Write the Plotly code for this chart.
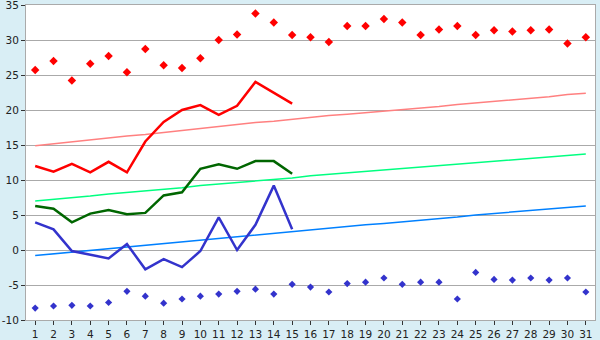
import plotly.graph_objects as go

days = list(range(1, 32))

record_max = [25.7, 27.0, 24.2, 26.6, 27.7, 25.4, 28.7, 26.4, 26.0, 27.4,
              30.0, 30.8, 33.8, 32.5, 30.7, 30.4, 29.7, 32.0, 32.0, 33.0,
              32.5, 30.7, 31.5, 32.0, 30.7, 31.4, 31.2, 31.4, 31.5, 29.5, 30.4]
record_min = [-8.3, -8.0, -7.9, -8.0, -7.5, -5.9, -6.6, -7.6, -7.0, -6.6,
              -6.3, -5.9, -5.6, -6.3, -4.9, -5.3, -6.0, -4.8, -4.6, -4.0,
              -4.9, -4.6, -4.6, -7.0, -3.2, -4.2, -4.3, -4.0, -4.3, -4.0, -6.0]

obs_days = list(range(1, 16))
tmax = [12.0, 11.2, 12.3, 11.1, 12.6, 11.1, 15.5, 18.3, 20.0, 20.7, 19.3, 20.6, 24.0, 22.4, 20.9]
tmean = [6.3, 5.9, 3.95, 5.2, 5.7, 5.1, 5.3, 7.8, 8.25, 11.6, 12.25, 11.6, 12.7, 12.7, 10.9]
tmin = [3.95, 2.95, -0.15, -0.7, -1.2, 0.85, -2.75, -1.3, -2.45, -0.15, 4.65, 0.0, 3.6, 9.2, 2.95]

norm_max = [14.9, 15.2, 15.4, 15.7, 16.0, 16.3, 16.5, 16.8, 17.1, 17.3, 17.6, 17.9, 18.2, 18.4, 18.7,
            18.9, 19.2, 19.4, 19.6, 19.9, 20.1, 20.3, 20.5, 20.8, 21.0, 21.2, 21.5, 21.7, 21.9, 22.2, 22.4]
norm_mean = [7.0, 7.2, 7.5, 7.7, 8.0, 8.2, 8.4, 8.7, 8.9, 9.2, 9.4, 9.6, 9.9, 10.1, 10.3,
             10.6, 10.8, 11.0, 11.2, 11.4, 11.6, 11.8, 12.0, 12.2, 12.5, 12.7, 12.9, 13.1, 13.3, 13.5, 13.7]
norm_min = [-0.8, -0.55, -0.3, -0.05, 0.2, 0.45, 0.7, 0.95, 1.2, 1.45, 1.7, 1.95, 2.2, 2.45, 2.7,
            2.9, 3.1, 3.4, 3.6, 3.8, 4.0, 4.3, 4.5, 4.7, 5.0, 5.2, 5.4, 5.6, 5.9, 6.1, 6.3]

y_ticks = [-10, -5, 0, 5, 10, 15, 20, 25, 30, 35]
y_labels = ["-10", "-5", "0", "5", "10", "15", "20", "25", "30", "35"]

fig = go.Figure()
fig.add_trace(go.Scatter(x=days, y=norm_max, mode="lines", line=dict(color="#FF8080", width=1.5)))
fig.add_trace(go.Scatter(x=days, y=norm_mean, mode="lines", line=dict(color="#00FF80", width=1.5)))
fig.add_trace(go.Scatter(x=days, y=norm_min, mode="lines", line=dict(color="#0080FF", width=1.5)))
fig.add_trace(go.Scatter(x=obs_days, y=tmax, mode="lines", line=dict(color="#FF0000", width=2.5)))
fig.add_trace(go.Scatter(x=obs_days, y=tmean, mode="lines", line=dict(color="#006600", width=2.5)))
fig.add_trace(go.Scatter(x=obs_days, y=tmin, mode="lines", line=dict(color="#3333CC", width=2.5)))
fig.add_trace(go.Scatter(x=days, y=record_max, mode="markers",
                         marker=dict(symbol="diamond", size=6.5, color="#FF0000")))
fig.add_trace(go.Scatter(x=days, y=record_min, mode="markers",
                         marker=dict(symbol="diamond", size=5.5, color="#3333CC")))

fig.update_layout(
    width=600, height=340,
    margin=dict(l=26, r=5, t=5, b=20),
    paper_bgcolor="#D9EEF5",
    plot_bgcolor="#FFFFFF",
    showlegend=False,
    font=dict(family="DejaVu Sans", size=11, color="#222222"),
)
fig.update_xaxes(
    range=[0.5, 31.5], tickmode="array", tickvals=days, ticktext=[str(d) for d in days],
    showgrid=False, showline=True, mirror=True, linecolor="#AAAAAA", linewidth=1,
    ticks="outside", ticklen=4, tickcolor="#333333", zeroline=False,
    automargin=False, tickfont=dict(size=10.5), ticklabelstandoff=0,
)
fig.update_yaxes(
    range=[-10, 35], tickmode="array", tickvals=y_ticks, ticktext=y_labels,
    showgrid=True, gridcolor="#AAAAAA", gridwidth=1,
    showline=True, mirror=True, linecolor="#AAAAAA", linewidth=1,
    ticks="outside", ticklen=4, tickcolor="#333333", zeroline=False,
    ticklabeloverflow="allow", automargin=False,
    tickfont=dict(size=10.5), ticklabelstandoff=0,
)

fig.write_html("out.html")
